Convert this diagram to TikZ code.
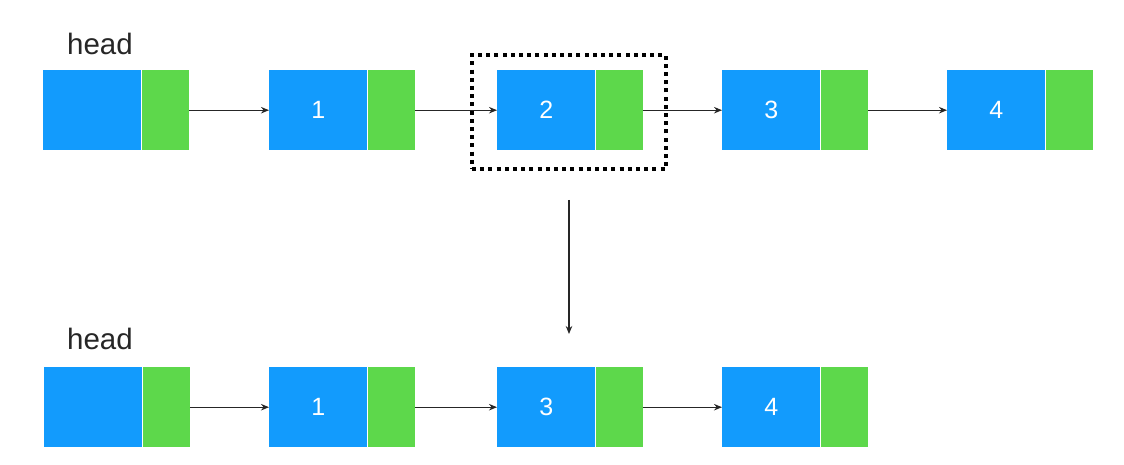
\documentclass[tikz,border=0pt]{standalone}
\usepackage{fontspec}
\setmainfont{Liberation Sans}
\usetikzlibrary{arrows.meta, positioning}
\definecolor{datacol}{HTML}{129BFD}
\definecolor{ptrcol}{HTML}{5DD84B}

\begin{document}
\begin{tikzpicture}[x=1pt, y=-1pt,
    data/.style={fill=datacol, minimum width=98pt, minimum height=80pt,
                 inner sep=0pt, anchor=north west, text=white,
                 font=\fontsize{25}{25}\selectfont},
    ptr/.style={fill=ptrcol, minimum width=47pt, minimum height=80pt,
                inner sep=0pt},
    link/.style={-{Stealth[length=8pt, width=6.5pt]}, line width=1.2pt, black!85},
    selbox/.style={draw=black, line width=4pt, dash pattern=on 4pt off 4.2pt,
                   minimum width=194pt, minimum height=114pt, inner sep=0pt},
    label/.style={font=\fontsize{29.5}{29.5}\selectfont, text=black!85},
  ]
  \useasboundingbox (0,0) rectangle (1124,465);

  % =========================================================
  %  TOP LIST -- before removing node 2
  % =========================================================
  \node[label] (hd1) at (100,44) {head};
  \foreach \nm/\x/\lbl in {h/43/, a/269/1, b/497/2, c/722/3, d/947/4}{
    \node[data] (t\nm) at (\x,70) {\lbl};
    \node[ptr, right=0pt of t\nm] (t\nm p) {};
  }
  \foreach \u/\v in {h/a, a/b, b/c, c/d}{
    \draw[link] (t\u p.east) -- (t\v.west);
  }

  % the node that gets removed
  \node[selbox] (sel) at (569,112) {};

  \coordinate (drop) at (569,334);
  \draw[link] ([yshift=-29pt]sel.south) -- (drop);

  % =========================================================
  %  BOTTOM LIST -- after removing node 2
  % =========================================================
  \node[label] (hd2) at (100,339) {head};
  \foreach \nm/\x/\lbl in {h/44/, a/269/1, c/497/3, d/722/4}{
    \node[data] (b\nm) at (\x,367) {\lbl};
    \node[ptr, right=0pt of b\nm] (b\nm p) {};
  }
  \foreach \u/\v in {h/a, a/c, c/d}{
    \draw[link] (b\u p.east) -- (b\v.west);
  }

\end{tikzpicture}
\end{document}
